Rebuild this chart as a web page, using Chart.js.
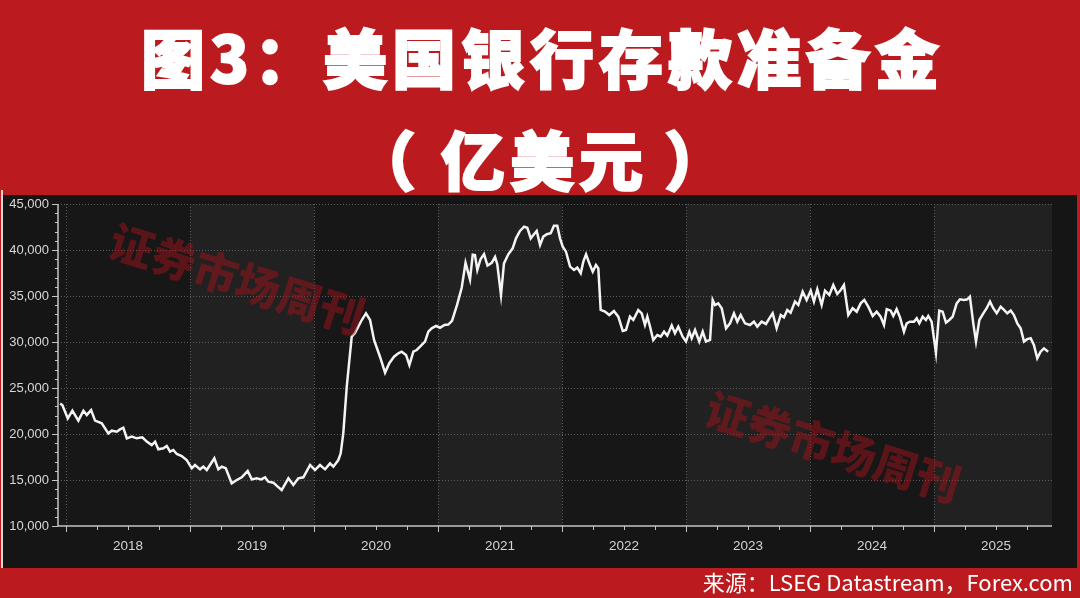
<!DOCTYPE html>
<html>
<head>
<meta charset="utf-8">
<script src="https://cdn.jsdelivr.net/npm/chart.js@4.4.1/dist/chart.umd.min.js"></script>
<style>
html, body { margin: 0; padding: 0; }
body { width: 1080px; height: 598px; background: #bb1b1f; position: relative; overflow: hidden; font-family: "Noto Sans CJK SC", sans-serif; }
.title { position: absolute; left: 0; width: 1080px; text-align: center; color: #fff; font-weight: 900; font-size: 64px; letter-spacing: 5px; padding-left: 5px; box-sizing: border-box; -webkit-text-stroke: 2px #fff; line-height: 1; white-space: nowrap; }
.title span { display: inline-block; }
#t1 { top: 23px; }
#t2 { top: 125px; }
#panel { position: absolute; left: 3px; top: 195px; width: 1074px; height: 373px; background: #151515; }
#edge { position: absolute; left: 1px; top: 190px; width: 2px; height: 378px; background: #d8d8d8; }
#src { position: absolute; right: 7px; top: 566px; color: #fff; font-size: 22px; line-height: 30px; white-space: nowrap; }
</style>
</head>
<body>
<div class="title" id="t1">图3：美国银行存款准备金</div>
<div class="title" id="t2"><span style="margin-right:20px">（</span>亿美元<span style="margin-left:16px">）</span></div>
<div id="edge"></div>
<div id="panel"><canvas id="myChart" width="1074" height="373"></canvas></div>
<div id="src">来源：LSEG Datastream，Forex.com</div>
<script>
'use strict';

// weekly readings, x as decimal year
let weeks = [
  2017.952, 2017.970, 2018.014, 2018.051, 2018.099, 2018.140, 2018.167, 2018.202, 2018.234, 2018.288,
  2018.341, 2018.369, 2018.409, 2018.435, 2018.462, 2018.490, 2018.530, 2018.570, 2018.615, 2018.651,
  2018.691, 2018.718, 2018.744, 2018.785, 2018.812, 2018.839, 2018.865, 2018.893, 2018.933, 2018.973,
  2019.014, 2019.040, 2019.081, 2019.107, 2019.135, 2019.161, 2019.196, 2019.228, 2019.256, 2019.288,
  2019.336, 2019.377, 2019.417, 2019.465, 2019.498, 2019.538, 2019.573, 2019.605, 2019.631, 2019.672,
  2019.707, 2019.739, 2019.793, 2019.833, 2019.873, 2019.914, 2019.968, 2020.008, 2020.048, 2020.089,
  2020.129, 2020.156, 2020.196, 2020.215, 2020.236, 2020.264, 2020.285, 2020.304, 2020.331, 2020.357,
  2020.385, 2020.419, 2020.452, 2020.484, 2020.532, 2020.573, 2020.607, 2020.645, 2020.680, 2020.707,
  2020.742, 2020.769, 2020.801, 2020.828, 2020.855, 2020.895, 2020.922, 2020.949, 2020.984, 2021.016,
  2021.052, 2021.083, 2021.113, 2021.153, 2021.191, 2021.222, 2021.258, 2021.280, 2021.298, 2021.317,
  2021.343, 2021.371, 2021.399, 2021.433, 2021.460, 2021.478, 2021.508, 2021.532, 2021.567, 2021.602,
  2021.629, 2021.661, 2021.694, 2021.720, 2021.748, 2021.774, 2021.796, 2021.823, 2021.849, 2021.877,
  2021.909, 2021.935, 2021.962, 2021.984, 2022.006, 2022.032, 2022.065, 2022.097, 2022.123, 2022.151,
  2022.172, 2022.194, 2022.220, 2022.248, 2022.274, 2022.293, 2022.312, 2022.347, 2022.381, 2022.419,
  2022.454, 2022.490, 2022.516, 2022.548, 2022.575, 2022.615, 2022.643, 2022.669, 2022.688, 2022.710,
  2022.736, 2022.769, 2022.796, 2022.823, 2022.849, 2022.885, 2022.911, 2022.938, 2022.973, 2023.000,
  2023.027, 2023.046, 2023.073, 2023.107, 2023.135, 2023.161, 2023.194, 2023.215, 2023.234, 2023.260,
  2023.288, 2023.323, 2023.355, 2023.387, 2023.414, 2023.441, 2023.476, 2023.516, 2023.548, 2023.575,
  2023.610, 2023.645, 2023.672, 2023.699, 2023.731, 2023.764, 2023.790, 2023.817, 2023.844, 2023.879,
  2023.906, 2023.941, 2023.973, 2024.006, 2024.032, 2024.059, 2024.094, 2024.121, 2024.156, 2024.188,
  2024.220, 2024.248, 2024.274, 2024.309, 2024.344, 2024.377, 2024.409, 2024.438, 2024.470, 2024.506,
  2024.538, 2024.570, 2024.597, 2024.619, 2024.651, 2024.672, 2024.699, 2024.726, 2024.758, 2024.780,
  2024.806, 2024.839, 2024.861, 2024.882, 2024.909, 2024.935, 2024.954, 2024.981, 2025.016, 2025.043,
  2025.070, 2025.097, 2025.124, 2025.151, 2025.183, 2025.210, 2025.242, 2025.269, 2025.290, 2025.317,
  2025.339, 2025.366, 2025.398, 2025.425, 2025.452, 2025.478, 2025.506, 2025.538, 2025.565, 2025.591,
  2025.619, 2025.645, 2025.672, 2025.699, 2025.726, 2025.752, 2025.780, 2025.806, 2025.833, 2025.860,
  2025.887, 2025.921
];

// 亿美元
let reserves = [
  23300, 23150, 21700, 22530, 21450, 22530, 22070, 22600, 21450, 21160,
  20070, 20360, 20250, 20500, 20680, 19530, 19710, 19530, 19640, 19170,
  18800, 19170, 18340, 18450, 18700, 18080, 18260, 17830, 17610, 17170,
  16270, 16630, 16160, 16450, 16090, 16630, 17360, 16160, 16450, 16270,
  14640, 15000, 15290, 15980, 15070, 15180, 15070, 15290, 14820, 14710,
  14280, 13910, 15180, 14460, 15180, 15290, 16630, 16090, 16630, 16160,
  16810, 16450, 17170, 17900, 20070, 25140, 28040, 30580, 31010, 31670,
  32390, 33120, 32390, 30220, 28400, 26670, 27690, 28400, 28770, 28950,
  28590, 27500, 28950, 29130, 29490, 30050, 31120, 31490, 31740, 31550,
  31850, 31900, 32300, 34000, 35900, 38600, 36800, 39500, 39460, 37830,
  39000, 39550, 38300, 38600, 39250, 38450, 35110, 38550, 39530, 40180,
  41270, 42070, 42530, 42420, 41270, 41710, 42070, 40540, 41450, 41710,
  41820, 42640, 42640, 41270, 40360, 39820, 38190, 37830, 38080, 37470,
  38730, 39530, 38550, 37650, 38370, 38010, 33480, 33300, 32930, 33370,
  32750, 31200, 31300, 32750, 32390, 33480, 33120, 31850, 32750, 31670,
  30220, 30760, 30580, 31120, 30690, 31790, 30950, 31670, 30580, 30050,
  31120, 30400, 31300, 30050, 31120, 30050, 30220, 34570, 34020, 34200,
  33670, 31490, 32030, 33120, 32210, 32930, 32030, 31850, 32210, 31670,
  32210, 31960, 32570, 33120, 31490, 32930, 32680, 33480, 33190, 34390,
  34020, 35470, 34570, 35580, 34390, 35730, 34020, 35580, 35110, 36200,
  35220, 35650, 36200, 32930, 33670, 33300, 34200, 34570, 33840, 32830,
  33300, 32750, 31850, 33570, 33410, 32830, 33570, 32680, 31120, 32030,
  32210, 32210, 32570, 32030, 32750, 32390, 32830, 32210, 28840, 33410,
  33300, 32110, 32390, 32750, 34200, 34640, 34570, 34640, 34930, 32030,
  30050, 32390, 33120, 33670, 34390, 33670, 33120, 33840, 33480, 33120,
  33410, 32930, 32030, 31490, 30050, 30310, 30400, 29670, 28230, 28950,
  29310, 28950
];

let yearLabels = ['2018', '2019', '2020', '2021', '2022', '2023', '2024', '2025'];
let yTicks = [10000, 15000, 20000, 25000, 30000, 35000, 40000, 45000];

let axisColor = '#c4c4c4';

function drawMark(ctx, cx, cy) {
    ctx.save();
    ctx.translate(cx, cy);
    ctx.rotate(17.5 * Math.PI / 180);
    ctx.font = '900 44px "Noto Sans CJK SC"';
    ctx.fillStyle = 'rgba(160, 18, 26, 0.5)';
    ctx.textAlign = 'center';
    ctx.textBaseline = 'middle';
    ctx.fillText('证券市场周刊', 0, 0);
    ctx.restore();
}

let panelPlugin = {
    id: 'panel',
    beforeDraw(chart) {
        let ctx = chart.ctx;
        let a = chart.chartArea;
        let x = chart.scales.x;
        let y = chart.scales.y;
        ctx.save();
        ctx.fillStyle = '#171717';
        ctx.fillRect(a.left, a.top, a.width, a.height);
        // lighter band every other year
        for (let i = 0; i < yearLabels.length; i++) {
            let yr = Number(yearLabels[i]);
            if (yr % 2 === 1) {
                let x0 = x.getPixelForValue(yr);
                let x1 = Math.min(x.getPixelForValue(yr + 1), a.right);
                ctx.fillStyle = '#212121';
                ctx.fillRect(x0, a.top, x1 - x0, a.height);
            }
        }
        ctx.strokeStyle = '#5c5c5c';
        ctx.lineWidth = 1;
        ctx.setLineDash([1, 2]);
        for (let i = 0; i < yearLabels.length; i++) {
            let px = Math.round(x.getPixelForValue(Number(yearLabels[i]))) + 0.5;
            ctx.beginPath();
            ctx.moveTo(px, a.top);
            ctx.lineTo(px, a.bottom);
            ctx.stroke();
        }
        for (let i = 1; i < yTicks.length; i++) {
            let py = Math.round(y.getPixelForValue(yTicks[i])) + 0.5;
            ctx.beginPath();
            ctx.moveTo(a.left, py);
            ctx.lineTo(a.right, py);
            ctx.stroke();
        }
        ctx.restore();
    },
    afterDatasetsDraw(chart) {
        let ctx = chart.ctx;
        drawMark(ctx, 234, 84);
        drawMark(ctx, 830, 252);
    },
    afterDraw(chart) {
        let ctx = chart.ctx;
        let a = chart.chartArea;
        let x = chart.scales.x;
        let y = chart.scales.y;
        ctx.save();
        ctx.strokeStyle = axisColor;
        ctx.lineWidth = 1.5;
        ctx.beginPath();
        ctx.moveTo(a.left, a.top);
        ctx.lineTo(a.left, a.bottom);
        ctx.lineTo(a.right, a.bottom);
        ctx.stroke();
        ctx.lineWidth = 1;
        // y ticks, minor every 1000
        for (let v = yTicks[0]; v <= yTicks[yTicks.length - 1]; v += 1000) {
            let py = Math.round(y.getPixelForValue(v)) + 0.5;
            let len = (v % 5000 === 0) ? 6 : 3;
            ctx.beginPath();
            ctx.moveTo(a.left - len, py);
            ctx.lineTo(a.left, py);
            ctx.stroke();
        }
        // x ticks, minor every quarter
        for (let t = Number(yearLabels[0]); t < x.max; t += 0.25) {
            let px = Math.round(x.getPixelForValue(t)) + 0.5;
            let len = (t % 1 === 0) ? 6 : 4;
            ctx.beginPath();
            ctx.moveTo(px, a.bottom);
            ctx.lineTo(px, a.bottom + len);
            ctx.stroke();
        }
        ctx.restore();
    }
};

let chartData = {
    type: 'line',
    data: {
        datasets: [{
            label: '美国银行存款准备金',
            data: weeks.map((w, i) => ({ x: w, y: reserves[i] })),
            borderColor: '#f4f4f4',
            borderWidth: 2.5,
            pointRadius: 0,
            tension: 0,
            fill: false
        }]
    },
    options: {
        responsive: false,
        animation: false,
        devicePixelRatio: 1,
        layout: { padding: { left: 0, right: 25, top: 9, bottom: 0 } },
        plugins: {
            legend: { display: false },
            tooltip: { enabled: false }
        },
        scales: {
            x: {
                type: 'linear',
                min: 2017.935,
                max: 2025.952,
                afterBuildTicks: (scale) => {
                    scale.ticks = yearLabels.map(l => ({ value: Number(l) + 0.5 }));
                },
                afterFit: (scale) => {
                    scale.height = 42;
                    scale.paddingLeft = 0;
                    scale.paddingRight = 0;
                },
                grid: { display: false, drawTicks: false },
                border: { display: false },
                ticks: {
                    autoSkip: false,
                    maxRotation: 0,
                    padding: 12,
                    color: '#d4d4d4',
                    font: { family: 'Liberation Sans', size: 13.5 },
                    callback: (v) => String(Math.floor(v))
                }
            },
            y: {
                min: 10000,
                max: 45000,
                afterBuildTicks: (scale) => {
                    scale.ticks = yTicks.map(v => ({ value: v }));
                },
                afterFit: (scale) => {
                    scale.width = 55;
                    scale.paddingTop = 0;
                    scale.paddingBottom = 0;
                },
                grid: { display: false, drawTicks: false },
                border: { display: false },
                ticks: {
                    padding: 9,
                    color: '#d8d8d8',
                    font: { family: 'Liberation Sans', size: 13 },
                    callback: (v) => v.toLocaleString('en-US')
                }
            }
        }
    },
    plugins: [panelPlugin]
};

let ctx = document.getElementById('myChart').getContext('2d');
let myChart = new Chart(ctx, chartData);
</script>
</body>
</html>
